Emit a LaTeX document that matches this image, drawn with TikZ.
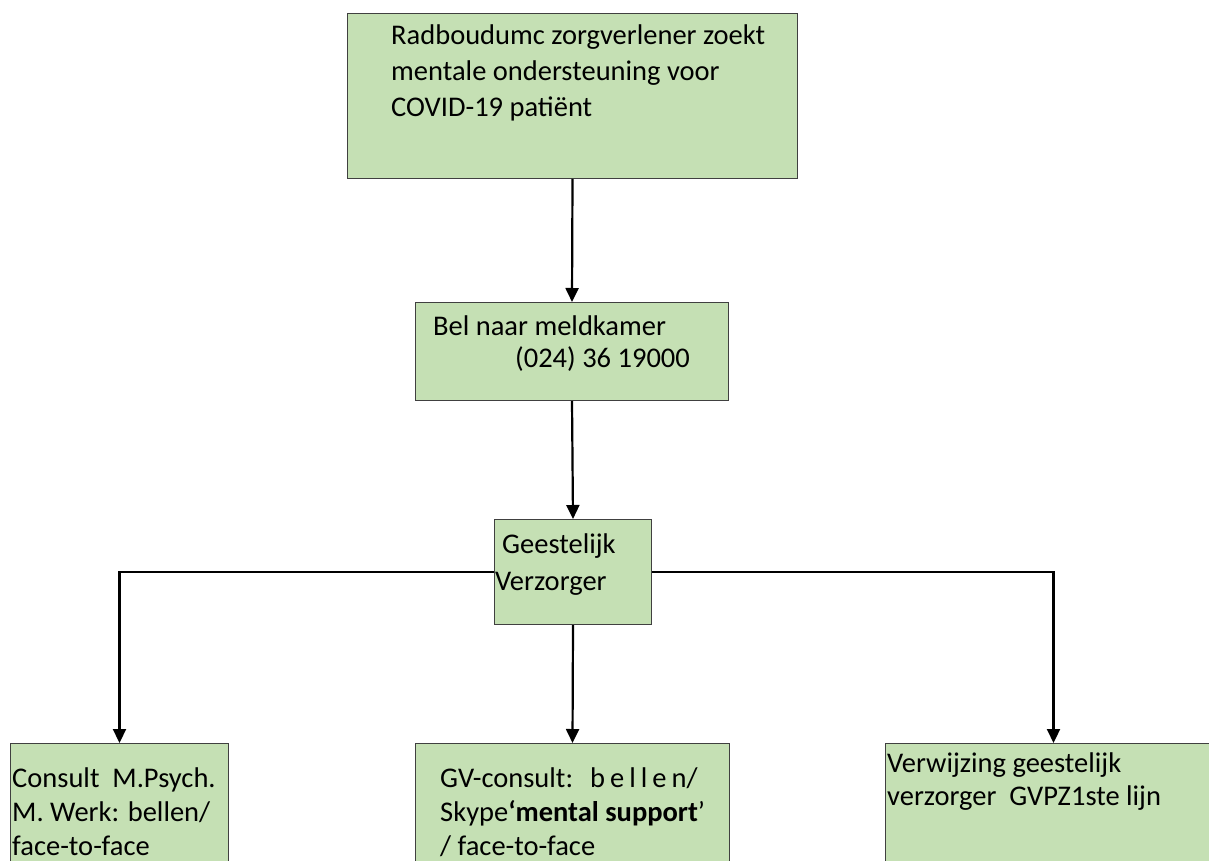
\documentclass[tikz,border=0pt]{standalone}
\usepackage{fontspec}
\setmainfont{Carlito}
\usetikzlibrary{arrows.meta}
\definecolor{boxgreen}{HTML}{C5E0B4}
\definecolor{boxline}{HTML}{404040}
\tikzset{
  box/.style={draw=boxline, line width=1pt, fill=boxgreen, anchor=north west, inner sep=0pt},
  txt/.style={anchor=base west, inner sep=0pt, align=left, font=\fontsize{28.5}{36}\selectfont, text=black},
  conn/.style={line width=2.2pt, -{Triangle[length=14pt,width=13pt]}}
}
\begin{document}
\begin{tikzpicture}[x=1pt,y=-1pt]
\useasboundingbox (0,0) rectangle (1209,861);
\clip (0,0) rectangle (1209,861);
\node[box, minimum width=450, minimum height=165] (top) at (347,13) {};
\node[box, minimum width=313, minimum height=98] (bel) at (415,302) {};
\node[box, minimum width=157, minimum height=105] (gv) at (494,519) {};
\node[box, minimum width=218, minimum height=140] (bl) at (10,743) {};
\node[box, minimum width=314, minimum height=140] (bm) at (415,743) {};
\node[box, minimum width=336, minimum height=140] (br) at (885,743) {};

\node[txt] (t1) at (391,117) {Radboudumc zorgverlener zoekt\\mentale ondersteuning voor\\COVID-19 patiënt};
\node[txt, font=\fontsize{28.5}{32}\selectfont] (t2) at (433,367) {Bel naar meldkamer\\\hspace*{82pt}(024) 36 19000};
\node[txt, font=\fontsize{28.5}{37}\selectfont] (t3) at (495,590) {\hspace*{7pt}Geestelijk\\Verzorger};
\node[txt, font=\fontsize{28.5}{34}\selectfont] (t4) at (12,855) {Consult\ \ M.Psych.\\M. Werk: bellen/\\face-to-face};
\node[txt, font=\fontsize{28.5}{34}\selectfont] (t5) at (440,855) {GV-consult:\hspace{17pt}b\kern5pt e\kern5pt l\kern5pt l\kern5pt e\kern5pt n/\\Skype\textbf{‘mental support}’\\/ face-to-face};
\node[txt, font=\fontsize{28.5}{33}\selectfont] (t6) at (887,805) {Verwijzing geestelijk\\verzorger\ \ GVPZ1ste lijn};

\draw[conn] (top.south) -- (bel.north);
\draw[conn] (bel.south) -- (gv.north);
\draw[conn] (gv.south) -- (bm.north);
\draw[conn] (gv.west) -| (bl.north);
\draw[conn] (gv.east) -| (br.north);
\end{tikzpicture}
\end{document}
